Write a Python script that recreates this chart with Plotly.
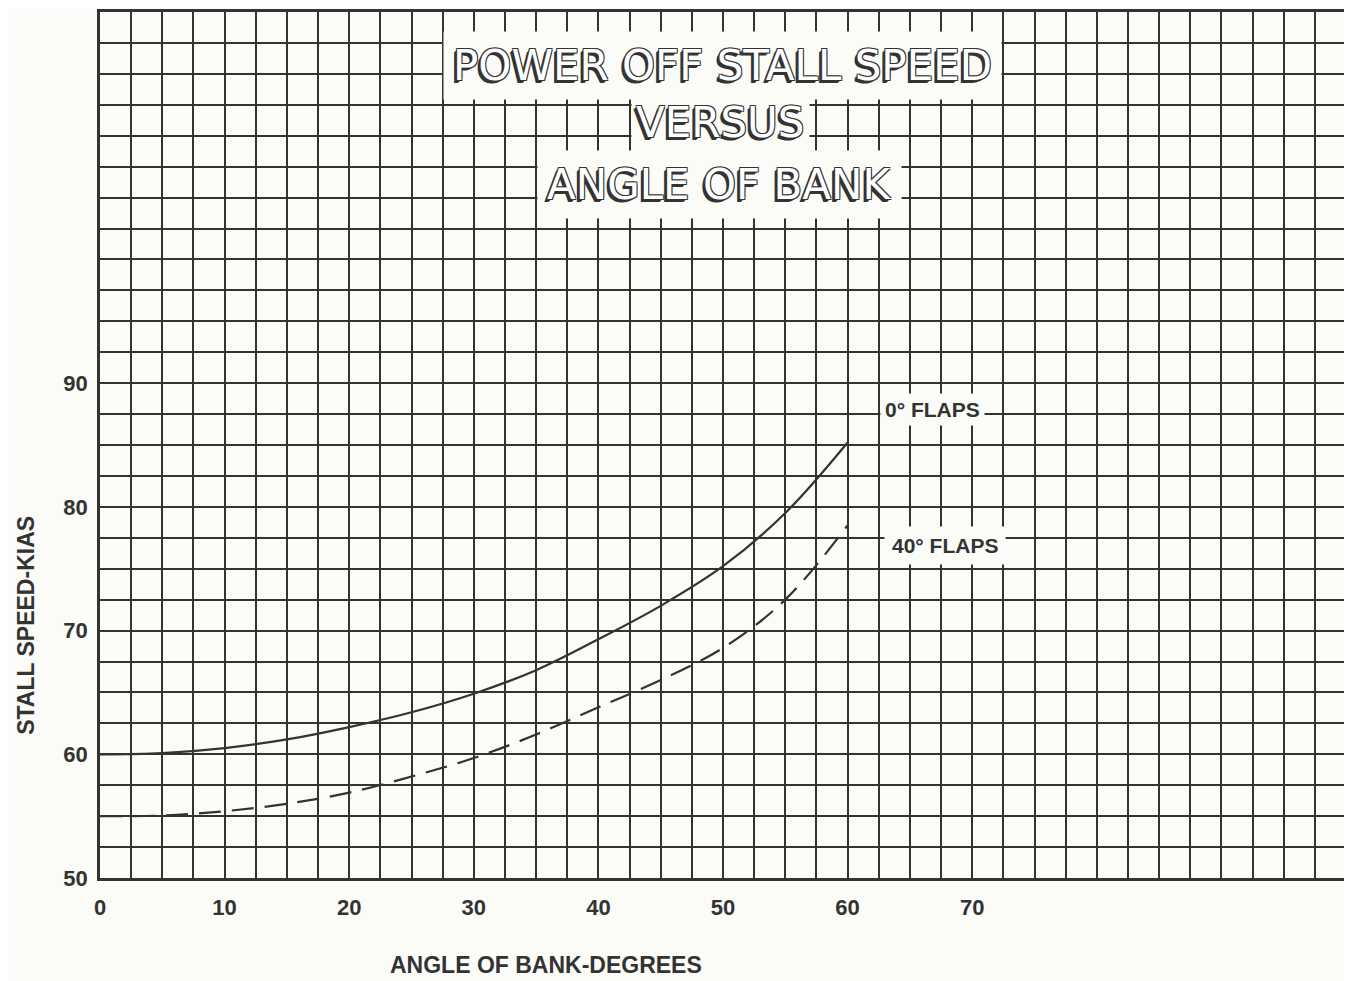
import plotly.graph_objects as go

bank_deg = [0, 5, 10, 15, 20, 25, 30, 35, 40, 45, 50, 55, 60]
stall_flaps0 = [60.0, 60.1, 60.5, 61.2, 62.2, 63.4, 64.9, 66.8, 69.3, 72.0, 75.2, 79.5, 85.2]
stall_flaps40 = [55.0, 55.05, 55.4, 56.0, 56.9, 58.2, 59.7, 61.6, 63.8, 66.0, 68.6, 72.5, 78.5]

x_ticks = [0, 10, 20, 30, 40, 50, 60, 70]
y_ticks = [50, 60, 70, 80, 90]
title_lines = ["POWER OFF STALL SPEED", "VERSUS", "ANGLE OF BANK"]
series_labels = ["0° FLAPS", "40° FLAPS"]
x_title = "ANGLE OF BANK-DEGREES"
y_title = "STALL SPEED-KIAS"

INK = "#333333"
PAPER = "#fbfbf7"
COND = "Liberation Sans, Arial, sans-serif"

fig = go.Figure()
fig.add_trace(go.Scatter(x=bank_deg, y=stall_flaps0, mode="lines",
                         line=dict(color=INK, width=2.2, shape="spline"),
                         name=series_labels[0], showlegend=False))
fig.add_trace(go.Scatter(x=bank_deg, y=stall_flaps40, mode="lines",
                         line=dict(color=INK, width=2.2, shape="spline", dash="22px,11px"),
                         name=series_labels[1], showlegend=False))

grid_style = dict(showgrid=True, gridcolor=INK, gridwidth=1.5, zeroline=False,
                  showline=True, linecolor=INK, linewidth=2.5, mirror=True)

fig.update_xaxes(range=[0, 100], tickmode="array", tickvals=x_ticks,
                 ticktext=[str(v) for v in x_ticks], ticks="", ticklabelstandoff=8,
                 tickfont=dict(family=COND, size=22, color=INK, weight="bold"),
                 minor=dict(dtick=2.5, tick0=0, showgrid=True, gridcolor=INK, gridwidth=1.5),
                 **grid_style)
fig.update_yaxes(range=[50, 120], tickmode="array", tickvals=y_ticks,
                 ticktext=[str(v) for v in y_ticks], ticks="", ticklabelstandoff=5,
                 tickfont=dict(family=COND, size=22, color=INK, weight="bold"),
                 minor=dict(dtick=2.5, tick0=50, showgrid=True, gridcolor=INK, gridwidth=1.5),
                 **grid_style)

# axis titles placed like the original (not centred on the plot)
fig.add_annotation(x=35.8, y=-0.100, xref="x", yref="paper", text=x_title,
                   showarrow=False, xanchor="center", yanchor="middle",
                   font=dict(family=COND, size=23, color=INK, weight="bold"))
fig.add_annotation(x=-0.060, y=70.4, xref="paper", yref="y", text=y_title,
                   showarrow=False, textangle=-90, xanchor="center", yanchor="middle",
                   font=dict(family=COND, size=23, color=INK, weight="bold"))

outline = ("-1px -1px 0 #333, 1px -1px 0 #333, -1px 1px 0 #333, 1px 1px 0 #333, "
           "-2px 2px 0 #333, -3px 3px 0 #333")
title_pos = [(49.95, 115.7, 9), (49.8, 111.05, 4), (49.7, 106.05, 9)]
for text, (xc, yc, pad) in zip(title_lines, title_pos):
    fig.add_annotation(x=xc, y=yc, xref="x", yref="y", text=text, showarrow=False,
                       bgcolor=PAPER, borderpad=pad,
                       font=dict(family="DejaVu Sans", size=42, color="white",
                                 shadow=outline))

fig.add_annotation(x=66.8, y=87.9, text=series_labels[0], showarrow=False,
                   bgcolor=PAPER, borderpad=4,
                   font=dict(family=COND, size=21, color=INK, weight="bold"))
fig.add_annotation(x=67.8, y=76.9, text=series_labels[1], showarrow=False,
                   bgcolor=PAPER, borderpad=7,
                   font=dict(family=COND, size=21, color=INK, weight="bold"))

fig.update_layout(width=1342, height=973, paper_bgcolor=PAPER, plot_bgcolor=PAPER,
                  margin=dict(l=92, r=1, t=2, b=103), showlegend=False)

fig.write_html("out.html")
